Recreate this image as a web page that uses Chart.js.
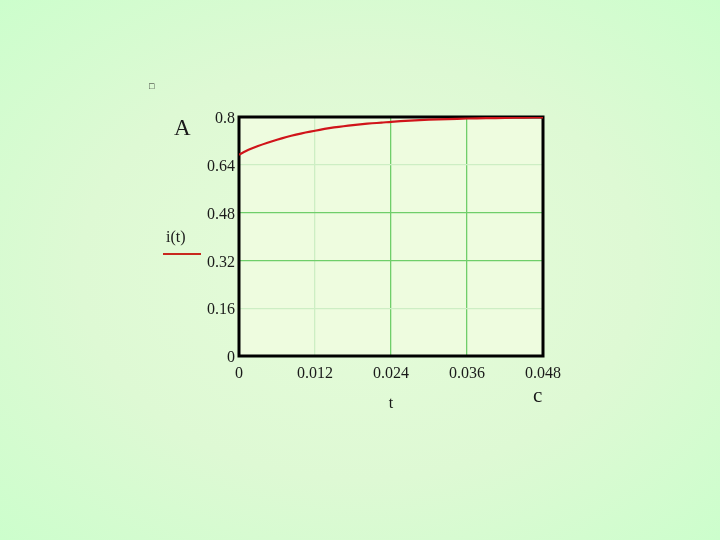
<!DOCTYPE html>
<html>
<head>
<meta charset="utf-8">
<script src="https://cdn.jsdelivr.net/npm/chart.js@4/dist/chart.umd.min.js"></script>
<style>
  html, body { margin: 0; padding: 0; }
  body {
    width: 720px; height: 540px; overflow: hidden; position: relative;
    background: radial-gradient(ellipse at 50% 50%, #e6fcda 0%, #def9d4 55%, #ccfecc 100%);
    font-family: "Liberation Serif", "DejaVu Serif", serif;
  }
  #wrap { position: absolute; left: 0; top: 0; width: 720px; height: 540px; }
  .lbl { position: absolute; color: #1a1a1a; line-height: 1; white-space: nowrap; }
</style>
</head>
<body>
<div id="wrap"><canvas id="myChart" width="720" height="540"></canvas></div>
<div class="lbl" style="left:149px; top:82px; font-size:9px;">□</div>
<div class="lbl" style="left:174px; top:116px; font-size:23px;">A</div>
<div class="lbl" style="left:166px; top:229px; font-size:16px;">i(t)</div>
<div style="position:absolute; left:163px; top:253px; width:38px; height:2px; background:#c8281e;"></div>
<div class="lbl" style="left:533px; top:385px; font-size:21px;">c</div>
<script>
// time samples (s) and current i(t) (A)
const times = [0, 0.0015, 0.003, 0.0045, 0.006, 0.0075, 0.009, 0.0105, 0.012, 0.0135,
               0.015, 0.0165, 0.018, 0.0195, 0.021, 0.0225, 0.024, 0.027, 0.03, 0.033,
               0.036, 0.039, 0.042, 0.045, 0.048];
const current = [0.674, 0.690, 0.703, 0.714, 0.724, 0.733, 0.741, 0.748, 0.754, 0.760,
                 0.765, 0.769, 0.773, 0.776, 0.779, 0.781, 0.784, 0.788, 0.791, 0.793,
                 0.795, 0.796, 0.797, 0.798, 0.799];

const xTickValues = [0, 0.012, 0.024, 0.036, 0.048];
const xTickLabels = ['0', '0.012', '0.024', '0.036', '0.048'];
const yTickValues = [0, 0.16, 0.32, 0.48, 0.64, 0.8];
const yTickLabels = ['0', '0.16', '0.32', '0.48', '0.64', '0.8'];

const strongGrid = '#6fce6a';
const faintGrid = '#cdeec4';

const plotFrame = {
    id: 'plotFrame',
    beforeDraw(chart) {
        const a = chart.chartArea;
        const ctx = chart.ctx;
        ctx.save();
        ctx.fillStyle = '#eefcdf';
        ctx.fillRect(a.left, a.top, a.right - a.left, a.bottom - a.top);
        ctx.restore();
    },
    beforeDatasetsDraw(chart) {
        const a = chart.chartArea;
        const ctx = chart.ctx;
        ctx.save();
        ctx.strokeStyle = '#000';
        ctx.lineWidth = 3;
        ctx.strokeRect(a.left, a.top, a.right - a.left, a.bottom - a.top);
        ctx.restore();
    }
};

const ctx = document.getElementById('myChart').getContext('2d');
const chart = new Chart(ctx, {
    type: 'line',
    data: {
        datasets: [{
            label: 'i(t)',
            data: times.map((t, i) => ({ x: t, y: current[i] })),
            borderColor: '#d0141a',
            borderWidth: 2.2,
            pointRadius: 0,
            tension: 0.2,
            fill: false
        }]
    },
    options: {
        responsive: false,
        animation: false,
        layout: { padding: { left: 0, right: 177, top: 117, bottom: 127 } },
        plugins: { legend: { display: false }, tooltip: { enabled: false } },
        scales: {
            x: {
                type: 'linear',
                min: 0,
                max: 0.048,
                afterBuildTicks: (scale) => { scale.ticks = xTickValues.map(v => ({ value: v })); },
                afterFit: (scale) => { scale.height = 57; },
                ticks: {
                    padding: 8,
                    color: '#1a1a1a',
                    font: { family: 'Liberation Serif', size: 16 },
                    maxRotation: 0,
                    callback: (v, i) => xTickLabels[i]
                },
                grid: {
                    drawTicks: false,
                    lineWidth: 1.3,
                    color: (c) => (c.index === 1 ? faintGrid : strongGrid)
                },
                border: { display: false },
                title: {
                    display: true,
                    text: 't',
                    color: '#1a1a1a',
                    font: { family: 'Liberation Serif', size: 16 },
                    padding: { top: 10, bottom: 0 }
                }
            },
            y: {
                min: 0,
                max: 0.8,
                afterBuildTicks: (scale) => { scale.ticks = yTickValues.map(v => ({ value: v })); },
                afterFit: (scale) => { scale.width = 239; },
                ticks: {
                    padding: 4,
                    labelOffset: 2,
                    color: '#1a1a1a',
                    font: { family: 'Liberation Serif', size: 16 },
                    callback: (v, i) => yTickLabels[i]
                },
                grid: {
                    drawTicks: false,
                    lineWidth: 1.3,
                    color: (c) => (c.index === 1 || c.index === 4 ? faintGrid : strongGrid)
                },
                border: { display: false }
            }
        }
    },
    plugins: [plotFrame]
});
</script>
</body>
</html>
